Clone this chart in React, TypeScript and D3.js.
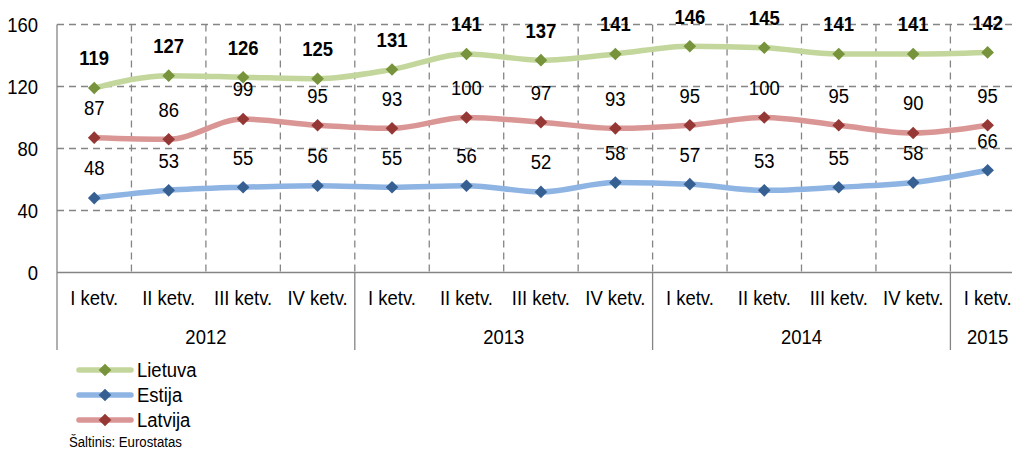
import React from 'react';
import * as d3 from 'd3';

const quarters = ['I ketv.', 'II ketv.', 'III ketv.', 'IV ketv.', 'I ketv.', 'II ketv.', 'III ketv.', 'IV ketv.', 'I ketv.', 'II ketv.', 'III ketv.', 'IV ketv.', 'I ketv.'];
const years = [
  { label: '2012', from: 0, to: 4 },
  { label: '2013', from: 4, to: 8 },
  { label: '2014', from: 8, to: 12 },
  { label: '2015', from: 12, to: 13 },
];
const lietuva = [119, 127, 126, 125, 131, 141, 137, 141, 146, 145, 141, 141, 142];
const estija = [48, 53, 55, 56, 55, 56, 52, 58, 57, 53, 55, 58, 66];
const latvija = [87, 86, 99, 95, 93, 100, 97, 93, 95, 100, 95, 90, 95];
const yTicks = [0, 40, 80, 120, 160];

const series = [
  { name: 'Lietuva', values: lietuva, line: '#C3D69B', marker: '#77933C', bold: true },
  { name: 'Estija', values: estija, line: '#8EB4E3', marker: '#376092', bold: false },
  { name: 'Latvija', values: latvija, line: '#D99694', marker: '#953735', bold: false },
];

const FONT = '"Liberation Sans Narrow", "Arial Narrow", "Liberation Sans", Arial, sans-serif';

// narrow-looking text: scale horizontally around the anchor point
const T = ({ x, y, anchor = 'middle', size = 21, bold = false, children }: any) => (
  <text transform={`translate(${x},${y}) scale(0.88,1)`} dy="0.35em" textAnchor={anchor} fontSize={size} fontWeight={bold ? 'bold' : 'normal'} fill="#000">{children}</text>
);

export default function App() {
  const left = 57;
  const step = 74.45;
  const x = d3.scaleBand<number>().domain(d3.range(quarters.length)).range([left, left + step * quarters.length]);
  const y = d3.scaleLinear().domain([0, 160]).range([272.5, 24.5]);
  const cx = (i: number) => (x(i) as number) + x.bandwidth() / 2;

  const line = d3.line<number>()
    .x((_, i) => cx(i))
    .y(d => y(d))
    .curve(d3.curveMonotoneX);

  const diamond = d3.symbol().type(d3.symbolSquare).size(80);
  const grid = '#858585';

  return (
    <svg width={1012} height={453} style={{ position: 'absolute', left: 0, top: 0 }} fontFamily={FONT}>
      <rect width={1012} height={453} fill="#fff" />
      {/* horizontal grid */}
      {yTicks.filter(t => t > 0).map(t => (
        <line key={t} x1={left} x2={1012} y1={y(t)} y2={y(t)} stroke={grid} strokeWidth={1.3} strokeDasharray="7,5" />
      ))}
      {/* vertical category grid */}
      {d3.range(1, quarters.length).map(i => (
        <line key={i} x1={x(i)} x2={x(i)} y1={y(160)} y2={y(0)} stroke={grid} strokeWidth={1.3} strokeDasharray="7,5" />
      ))}
      {/* axes */}
      <line x1={left} x2={1012} y1={y(0)} y2={y(0)} stroke={grid} strokeWidth={1.3} />
      <line x1={left} x2={left} y1={y(160)} y2={350} stroke={grid} strokeWidth={1.3} />
      {years.slice(1).map(yr => (
        <line key={yr.label} x1={x(yr.from)} x2={x(yr.from)} y1={y(0)} y2={350} stroke={grid} strokeWidth={1.3} />
      ))}
      {yTicks.map(t => (
        <T key={t} x={38} y={y(t)} anchor="end">{t}</T>
      ))}
      {quarters.map((q, i) => (
        <T key={i} x={cx(i)} y={298}>{q}</T>
      ))}
      {years.map(yr => (
        <T key={yr.label} x={((x(yr.from) as number) + (x(yr.to - 1) as number) + x.bandwidth()) / 2} y={337}>{yr.label}</T>
      ))}
      {/* series */}
      {series.map(s => (
        <g key={s.name}>
          <path d={line(s.values) || ''} fill="none" stroke={s.line} strokeWidth={5.5} strokeLinecap="round" />
          {s.values.map((v, i) => (
            <path key={i} d={diamond() || ''} transform={`translate(${cx(i)},${y(v)}) rotate(45)`} fill={s.marker} />
          ))}
          {s.values.map((v, i) => (
            <T key={'t' + i} x={cx(i)} y={y(v) - 30} bold={s.bold}>{v}</T>
          ))}
        </g>
      ))}
      {/* legend */}
      {series.map((s, i) => (
        <g key={'lg' + s.name} transform={`translate(0,${370 + i * 25})`}>
          <line x1={79} x2={131} y1={0} y2={0} stroke={s.line} strokeWidth={5.5} strokeLinecap="round" />
          <path d={diamond() || ''} transform="translate(105,0) rotate(45)" fill={s.marker} />
          <T x={137} y={0} anchor="start">{s.name}</T>
        </g>
      ))}
      <T x={69} y={442} anchor="start" size={15}>Šaltinis: Eurostatas</T>
    </svg>
  );
}
